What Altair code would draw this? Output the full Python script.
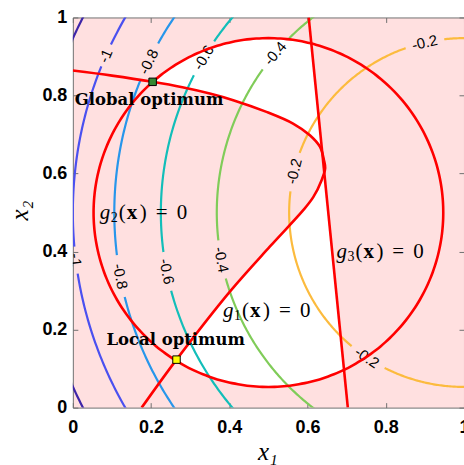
import math

import altair as alt
import pandas as pd

# Objective contour levels; each level is a circle about the contour centre
levels = [-1.2, -1.0, -0.8, -0.6, -0.4, -0.2]
level_radii = [1.095, 1.0, 0.894, 0.775, 0.632, 0.447]
level_colors = ["#3e26a8", "#4a50f0", "#2796eb", "#12beb9", "#80cc59", "#fcbb3e"]
contour_center = (1.0, 0.5)

# Inline contour labels (level and approximate anchor)
label_levels = [-1.0, -1.0, -0.8, -0.8, -0.6, -0.6, -0.4, -0.4, -0.2, -0.2, -0.2]
label_x1 = [0.087, 0.005, 0.197, 0.120, 0.338, 0.241, 0.517, 0.380, 0.900, 0.573, 0.751]
label_x2 = [0.900, 0.378, 0.885, 0.336, 0.895, 0.349, 0.908, 0.379, 0.933, 0.604, 0.127]

# Constraint g1(x) = 0, traced from the upper-left end round the nose to the bottom
g1_x1 = [0.000, 0.100, 0.204, 0.280, 0.350, 0.410, 0.495, 0.563, 0.606, 0.632,
         0.642, 0.645, 0.636, 0.615, 0.589, 0.504, 0.402, 0.265, 0.176]
g1_x2 = [0.864, 0.851, 0.835, 0.821, 0.805, 0.788, 0.758, 0.728, 0.698, 0.668,
         0.634, 0.613, 0.583, 0.540, 0.506, 0.413, 0.298, 0.123, 0.000]

# Constraint g2(x) = 0: circle
g2_center = (0.5, 0.5)
g2_radius = 0.447

# Constraint g3(x) = 0: straight line
g3_x1 = [0.603, 0.703]
g3_x2 = [1.0, 0.0]

# Corners of the feasible set where the boundaries meet
g3_g2_top = (0.606, 0.937)
g3_g2_bottom = (0.693, 0.092)
g1_g3_upper = (0.639, 0.645)
g1_g3_lower = (0.643, 0.600)

# Optima
opt_names = ["Global optimum", "Local optimum"]
opt_x1 = [0.204, 0.265]
opt_x2 = [0.835, 0.123]
opt_fill = ["#338833", "#ffff00"]
opt_label_x1 = [0.005, 0.086]
opt_label_x2 = [0.775, 0.161]

# Constraint name labels
con_index = ["1", "2", "3"]
con_x1 = [0.384, 0.069, 0.674]
con_x2 = [0.248, 0.499, 0.399]

tick_values = [0, 0.2, 0.4, 0.6, 0.8, 1]

PX_PER_UNIT = 391.0
W, H = 392, 391
PINK = "#ffe0e0"
FRAME = "#707070"


def arc(cx, cy, r, a0, a1, step=1.0):
    n = max(2, int(abs(a1 - a0) / step) + 1)
    pts = []
    for i in range(n):
        a = math.radians(a0 + (a1 - a0) * i / (n - 1))
        pts.append((cx + r * math.cos(a), cy + r * math.sin(a)))
    return pts


def angle_about(cx, cy, x, y):
    return math.degrees(math.atan2(y - cy, x - cx))


# ---- feasible (white) region polygons ----
g1_pts = list(zip(g1_x1, g1_x2))
gx, gy = g2_center
upper = g1_pts[2:10] + [g1_g3_upper, g3_g2_top]
upper += arc(gx, gy, g2_radius,
             angle_about(gx, gy, *g3_g2_top),
             angle_about(gx, gy, opt_x1[0], opt_x2[0]))
lower = [g1_pts[i] for i in (17, 16, 15, 14, 13, 12)] + [g1_g3_lower, g3_g2_bottom]
lower += arc(gx, gy, g2_radius,
             angle_about(gx, gy, *g3_g2_bottom),
             angle_about(gx, gy, opt_x1[1], opt_x2[1]))
poly_rows = []
for pid, pts in enumerate([upper, lower]):
    for k, (a, b) in enumerate(pts):
        poly_rows.append({"poly": pid, "k": k, "x1": a, "x2": b})
poly_df = pd.DataFrame(poly_rows)

# ---- contour lines with gaps for their labels ----
cx, cy = contour_center
lab_rows = []
gaps = {}
for lev, lx, ly in zip(label_levels, label_x1, label_x2):
    r = level_radii[levels.index(lev)]
    th = angle_about(cx, cy, lx, ly) % 360
    text = "-1" if lev == -1.0 else f"{lev:.1f}"
    half_px = 11 if text == "-1" else 19
    half_deg = math.degrees(half_px / (r * PX_PER_UNIT))
    gaps.setdefault(lev, []).append((th - half_deg, th + half_deg))
    phi = th + 90.0
    phi = ((phi + 90.0) % 180.0) - 90.0
    lab_rows.append({
        "x1": cx + r * math.cos(math.radians(th)),
        "x2": cy + r * math.sin(math.radians(th)),
        "label": text,
        "ang": (-phi) % 360.0,
    })
lab_df = pd.DataFrame(lab_rows)

con_rows = []
seg = 0
for lev, r, col in zip(levels, level_radii, level_colors):
    seg += 1
    k = 0
    prev_in = True
    a = 86.0
    while a <= 274.0:
        in_gap = any(lo <= a <= hi for lo, hi in gaps.get(lev, []))
        if in_gap:
            if prev_in:
                seg += 1
            prev_in = False
        else:
            prev_in = True
            con_rows.append({
                "seg": seg, "k": k, "color": col,
                "x1": cx + r * math.cos(math.radians(a)),
                "x2": cy + r * math.sin(math.radians(a)),
            })
            k += 1
        a += 0.5
con_df = pd.DataFrame(con_rows)

# ---- constraint boundaries ----
red_rows = []
for k, (a, b) in enumerate(g1_pts):
    red_rows.append({"curve": "g1", "k": k, "x1": a, "x2": b})
for k, (a, b) in enumerate(arc(gx, gy, g2_radius, 0, 360, 2.0)):
    red_rows.append({"curve": "g2", "k": k, "x1": a, "x2": b})
for k, (a, b) in enumerate(zip(g3_x1, g3_x2)):
    red_rows.append({"curve": "g3", "k": k, "x1": a, "x2": b})
red_df = pd.DataFrame(red_rows)

opt_df = pd.DataFrame({"name": opt_names, "x1": opt_x1, "x2": opt_x2, "fill": opt_fill})
opt_lab_df = pd.DataFrame({"name": opt_names, "x1": opt_label_x1, "x2": opt_label_x2})
con_lab_df = pd.DataFrame({"sub": con_index, "x1": con_x1, "x2": con_x2})

scale = alt.Scale(domain=[0, 1], nice=False, zero=False)

label_axis_x = alt.Axis(
    values=tick_values, labelExpr="datum.value + ''", ticks=False, domain=False,
    grid=False, labelFont="Liberation Sans", labelFontWeight="bold", labelFontSize=18,
    labelColor="black", labelPadding=11, labelFlush=False, title="x\u2081",
    titleFont="Liberation Serif", titleFontStyle="italic", titleFontWeight="normal",
    titleFontSize=25, titleColor="black", titleX=195, titleY=44,
    titleAlign="center", titleBaseline="middle",
)
label_axis_y = alt.Axis(
    values=tick_values, labelExpr="datum.value + ''", ticks=False, domain=False,
    grid=False, labelFont="Liberation Sans", labelFontWeight="bold", labelFontSize=18,
    labelColor="black", labelPadding=6, labelFlush=False, title="x\u2082",
    titleFont="Liberation Serif", titleFontStyle="italic", titleFontWeight="normal",
    titleFontSize=25, titleColor="black", titleX=-53, titleY=193, titleAngle=270,
    titleAlign="center", titleBaseline="middle",
)


def tick_axis(orient, offset):
    return alt.Axis(orient=orient, offset=offset, values=tick_values, labels=False,
                    domain=False, grid=False, ticks=True, tickSize=5,
                    tickColor=FRAME, tickWidth=1, title=None)


# feasible region on top of the pink infeasible background
white = alt.Chart(poly_df).mark_line(fill="white", stroke="white", strokeWidth=0.5).encode(
    x=alt.X("x1:Q", scale=scale, axis=label_axis_x),
    y=alt.Y("x2:Q", scale=scale, axis=label_axis_y),
    detail="poly:N",
    order="k:Q",
)

contours = alt.Chart(con_df).mark_line(strokeWidth=2.2, clip=True).encode(
    x=alt.X("x1:Q", scale=scale, axis=tick_axis("top", -H)),
    y=alt.Y("x2:Q", scale=scale, axis=tick_axis("right", -W)),
    color=alt.Color("color:N", scale=None),
    detail="seg:N",
    order="k:Q",
)

contour_labels = alt.Chart(lab_df).mark_text(
    font="Liberation Sans", fontSize=15, color="black", clip=True,
    align="center", baseline="middle",
).encode(
    x=alt.X("x1:Q", scale=scale, axis=None),
    y=alt.Y("x2:Q", scale=scale, axis=None),
    text="label:N",
    angle=alt.Angle("ang:Q", scale=None),
)

boundaries = alt.Chart(red_df).mark_line(
    color="#ff0000", strokeWidth=2.6, clip=True, interpolate="catmull-rom"
).encode(
    x=alt.X("x1:Q", scale=scale, axis=tick_axis("bottom", -H)),
    y=alt.Y("x2:Q", scale=scale, axis=tick_axis("left", -W)),
    detail="curve:N",
    order="k:Q",
)

optima = alt.Chart(opt_df).mark_square(size=56, filled=True, stroke="black", strokeWidth=1, opacity=1).encode(
    x=alt.X("x1:Q", scale=scale, axis=None),
    y=alt.Y("x2:Q", scale=scale, axis=None),
    fill=alt.Fill("fill:N", scale=None),
)

opt_text = alt.Chart(opt_lab_df).mark_text(
    font="DejaVu Serif", fontWeight="bold", fontSize=16.5, color="black",
    align="left", baseline="alphabetic",
).encode(
    x=alt.X("x1:Q", scale=scale, axis=None),
    y=alt.Y("x2:Q", scale=scale, axis=None),
    text="name:N",
)

# g_i(x) = 0 labels assembled from pieces
pieces = [
    dict(text="g", dx=0, dy=0, size=21, style="italic", weight="normal"),
    dict(text=None, dx=11, dy=5, size=14, style="normal", weight="normal"),
    dict(text="(", dx=19, dy=0, size=21, style="normal", weight="normal"),
    dict(text="x", dx=27, dy=0, size=21, style="normal", weight="bold"),
    dict(text=")", dx=40, dy=0, size=21, style="normal", weight="normal"),
    dict(text="=", dx=56, dy=0, size=21, style="normal", weight="normal"),
    dict(text="0", dx=77, dy=0, size=21, style="normal", weight="normal"),
]
con_layers = []
for p in pieces:
    kw = dict(font="Liberation Serif", fontSize=p["size"], fontStyle=p["style"],
              fontWeight=p["weight"], color="black", align="left", baseline="middle",
              dx=p["dx"], dy=p["dy"])
    if p["text"] is not None:
        kw["text"] = p["text"]
    enc = dict(x=alt.X("x1:Q", scale=scale, axis=None),
               y=alt.Y("x2:Q", scale=scale, axis=None))
    if p["text"] is None:
        enc["text"] = "sub:N"
    con_layers.append(alt.Chart(con_lab_df).mark_text(**kw).encode(**enc))

chart = alt.layer(
    white, contours, contour_labels, boundaries, optima, opt_text, *con_layers
).resolve_axis(x="independent", y="independent").properties(
    width=W, height=H,
    autosize=alt.AutoSizeParams(type="none"),
    padding={"left": 73, "top": 17, "right": 0, "bottom": 57},
    background="white",
).configure_view(fill=PINK, stroke=FRAME, strokeWidth=1)

chart.save("out.html", embed_options={"renderer": "svg", "actions": False})
